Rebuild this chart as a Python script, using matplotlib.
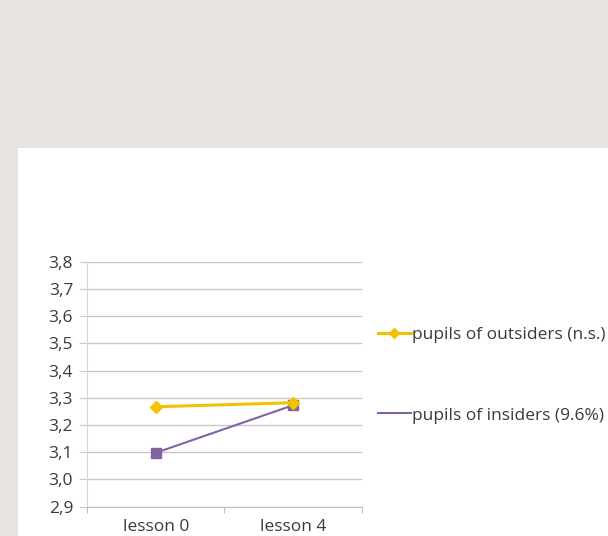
import matplotlib.pyplot as plt
from matplotlib.lines import Line2D
from matplotlib.patches import Rectangle
from matplotlib.ticker import FuncFormatter

plt.rcParams['font.family'] = ['Open Sans', 'DejaVu Sans']

# data
lessons = ['lesson 0', 'lesson 4']
outsiders = [3.267, 3.282]
insiders = [3.098, 3.273]
label_out = 'pupils of outsiders (n.s.)'
label_in = 'pupils of insiders (9.6%)'

col_out = '#f2c200'
col_in = '#8064a2'
txt = '#3a3a3a'

fig = plt.figure(figsize=(6.08, 5.36), dpi=100)
fig.patch.set_facecolor('#e8e3df')
# white panel behind the chart
fig.patches.append(Rectangle((18 / 608, 0), 1, (536 - 148) / 536,
                             transform=fig.transFigure, facecolor='white',
                             edgecolor='none', zorder=-10))

ax = fig.add_axes([87 / 608, 29.3 / 536, 275 / 608, 245 / 536])
ax.set_facecolor('white')

x = list(range(len(lessons)))
ax.plot(x, insiders, color=col_in, lw=1.5, marker='s', ms=7, zorder=3)
ax.plot(x, outsiders, color=col_out, lw=2.2, marker='D', ms=6.5, zorder=4)

ax.set_xlim(-0.5, 1.5)
ax.set_ylim(2.9, 3.8)
ax.set_yticks([2.9 + 0.1 * i for i in range(10)])
ax.yaxis.set_major_formatter(FuncFormatter(lambda v, p: f'{v:.1f}'.replace('.', ',')))
ax.set_xticks([-0.5, 0.5, 1.5])
ax.set_xticklabels([])
ax.set_xticks(x, minor=True)
ax.set_xticklabels(lessons, minor=True)
ax.tick_params(axis='x', which='minor', length=0, pad=9, labelsize=12.5, labelcolor=txt)
ax.tick_params(axis='x', which='major', length=4, color='#c0c0c0', direction='out')
ax.tick_params(axis='y', length=6, color='#c8c8c8', labelsize=12.5, labelcolor=txt, pad=4)

ax.grid(True, axis='y', color='#c8c8c8', lw=1.0)
ax.set_axisbelow(True)
for s in ['top', 'right']:
    ax.spines[s].set_visible(False)
ax.spines['left'].set_color('#d4d4d4')
ax.spines['bottom'].set_color('#c0c0c0')

handles = [Line2D([], [], color=col_out, lw=2.2, marker='D', ms=5),
           Line2D([], [], color=col_in, lw=1.5)]
fig.legend(handles, [label_out, label_in], loc='upper left',
           bbox_to_anchor=(378 / 608, 1 - 327 / 536), frameon=False,
           fontsize=12.5, labelcolor=txt, handlelength=1.9, handletextpad=0.05,
           labelspacing=3.7, borderpad=0, borderaxespad=0)

fig.savefig('out.png', dpi=100, facecolor=fig.get_facecolor())
